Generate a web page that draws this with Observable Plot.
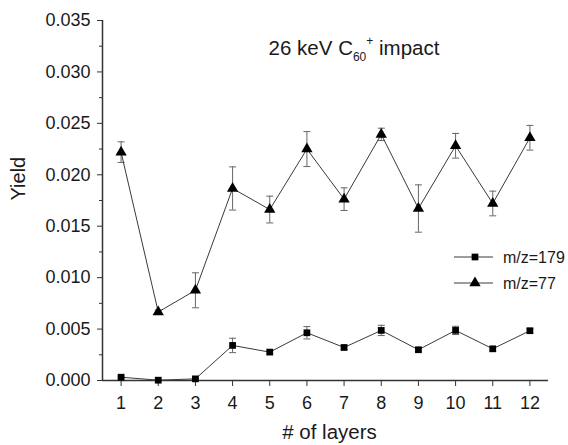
<!DOCTYPE html>
<html>
<head>
<meta charset="utf-8">
<script src="https://cdn.jsdelivr.net/npm/d3@7"></script>
<script src="https://cdn.jsdelivr.net/npm/@observablehq/plot@0.6"></script>
<style>
  html, body { margin: 0; padding: 0; background: #fff; }
  #chart svg { display: block; font-family: "Liberation Sans", Arial, sans-serif; }
</style>
</head>
<body>
<div id="chart"></div>
<script>
// ---- data ----
const layers = [1, 2, 3, 4, 5, 6, 7, 8, 9, 10, 11, 12];
const yield179 = [0.00032, 0.00003, 0.00016, 0.00341, 0.00276, 0.00464, 0.00321, 0.00487, 0.00299, 0.00487, 0.00308, 0.00484];
const err179   = [0.0001, 0.00005, 0.00005, 0.0007, 0.0002, 0.0006, 0.0002, 0.0005, 0.0002, 0.0004, 0.0002, 0.0002];
const yield77  = [0.0222, 0.00666, 0.00877, 0.01867, 0.01662, 0.0225, 0.01763, 0.02393, 0.01672, 0.02282, 0.01721, 0.0236];
const err77    = [0.001, 0.0002, 0.0017, 0.0021, 0.0013, 0.0017, 0.0011, 0.0006, 0.0023, 0.0012, 0.0012, 0.0012];
const seriesNames = ["m/z=179", "m/z=77"];
const yTicks = [0, 0.005, 0.010, 0.015, 0.020, 0.025, 0.030, 0.035];
const yMinorTicks = [0.0025, 0.0075, 0.0125, 0.0175, 0.0225, 0.0275, 0.0325];
const xDomain = [0.5, 12.5];
const yDomain = [0, 0.035];
const titleParts = ["26 keV C", "60", "+", " impact"];
const xLabel = "# of layers";
const yLabel = "Yield";

const data = [
  ...layers.map((x, i) => ({x, y: yield179[i], e: err179[i], s: seriesNames[0]})),
  ...layers.map((x, i) => ({x, y: yield77[i], e: err77[i], s: seriesNames[1]}))
];

const symbolOf = {[seriesNames[0]]: "square", [seriesNames[1]]: "triangle"};
const capSymbol = {draw(ctx) { ctx.moveTo(-3.5, 0); ctx.lineTo(3.5, 0); }};

const ink = "#1a1a1a";
const lineColor = "#3a3a3a";
const errColor = "#666";

function titleMark(index, scales, values, dims) {
  const cx = (dims.marginLeft + dims.width - dims.marginRight) / 2 + 29;
  const t = d3.create("svg:text")
    .attr("x", cx).attr("y", dims.marginTop + 35)
    .attr("text-anchor", "middle")
    .attr("fill", ink)
    .attr("font-size", 20.5);
  t.append("tspan").text(titleParts[0]);
  t.append("tspan").attr("font-size", 12).attr("dy", 6).text(titleParts[1]);
  t.append("tspan").attr("font-size", 12).attr("dy", -16).text(titleParts[2]);
  t.append("tspan").attr("dy", 10).text(titleParts[3]);
  return t.node();
}

function legendMark(index, scales, values, dims) {
  const g = d3.create("svg:g");
  const right = dims.width - dims.marginRight;
  const rows = [dims.marginTop + 237, dims.marginTop + 263];
  seriesNames.forEach((name, i) => {
    const y = rows[i];
    const mx = right - 73;
    g.append("line").attr("x1", mx - 21).attr("x2", mx + 18).attr("y1", y).attr("y2", y)
      .attr("stroke", lineColor).attr("stroke-width", 1);
    const sym = symbolOf[name] === "square" ? d3.symbolSquare : d3.symbolTriangle;
    const r = symbolOf[name] === "square" ? 3.8 : 4.2;
    g.append("path").attr("transform", `translate(${mx},${y})`)
      .attr("d", d3.symbol(sym, r * r * Math.PI)()).attr("fill", "#000");
    g.append("text").attr("x", right - 45).attr("y", y).attr("dy", "0.35em")
      .attr("text-anchor", "start")
      .attr("font-size", 16).attr("fill", ink).text(name);
  });
  return g.node();
}

const chart = Plot.plot({
  width: 568,
  height: 445,
  marginLeft: 102,
  marginRight: 20,
  marginTop: 20,
  marginBottom: 65,
  style: {fontFamily: "'Liberation Sans', Arial, sans-serif", color: ink, background: "#fff"},
  x: {domain: xDomain},
  y: {domain: yDomain},
  marks: [
    Plot.ruleX([xDomain[0]], {y1: yDomain[0], y2: yDomain[1], stroke: "#333", strokeWidth: 1.5}),
    Plot.ruleY([yDomain[0]], {x1: xDomain[0], x2: xDomain[1], stroke: "#333", strokeWidth: 1.5}),
    Plot.axisY({ticks: yTicks, tickSize: 5, tickPadding: 7, tickFormat: d3.format(".3f"), fontSize: 18, label: null, stroke: "#333"}),
    Plot.axisY({ticks: yMinorTicks, tickSize: 3, tickFormat: () => "", label: null, stroke: "#333"}),
    Plot.axisX({ticks: layers, tickSize: 6, tickPadding: 10, tickFormat: d3.format("d"), fontSize: 18, label: null, stroke: "#333"}),
    Plot.text([yLabel], {frameAnchor: "left", dx: -84, rotate: -90, fontSize: 20, fill: ink}),
    Plot.text([xLabel], {frameAnchor: "bottom", dx: 4, dy: 58, fontSize: 20.5, fill: ink}),
    Plot.ruleX(data, {x: "x", y1: d => d.y - d.e, y2: d => d.y + d.e, stroke: errColor, strokeWidth: 1}),
    Plot.dot(data, {x: "x", y: d => d.y + d.e, symbol: capSymbol, stroke: errColor, strokeWidth: 1}),
    Plot.dot(data, {x: "x", y: d => d.y - d.e, symbol: capSymbol, stroke: errColor, strokeWidth: 1}),
    Plot.line(data, {x: "x", y: "y", z: "s", stroke: lineColor, strokeWidth: 1}),
    Plot.dot(data.filter(d => d.s === seriesNames[0]), {x: "x", y: "y", symbol: "square", r: 3.8, fill: "#000", stroke: "none"}),
    Plot.dot(data.filter(d => d.s === seriesNames[1]), {x: "x", y: "y", symbol: "triangle", r: 4.2, fill: "#000", stroke: "none"}),
    titleMark,
    legendMark
  ]
});
document.getElementById("chart").appendChild(chart);
</script>
</body>
</html>
